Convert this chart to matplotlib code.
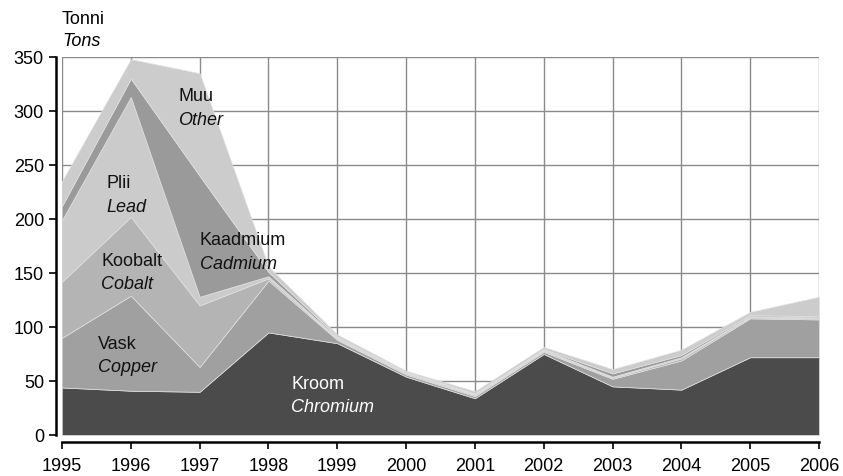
import matplotlib
matplotlib.use("Agg")
import matplotlib.pyplot as plt

plt.rcParams["font.family"] = ["Liberation Sans", "DejaVu Sans"]

# ---------------------------------------------------------------- data
years = [1995, 1996, 1997, 1998, 1999, 2000, 2001, 2002, 2003, 2004, 2005, 2006]
chromium = [44, 41, 40, 95, 85, 54, 34, 75, 45, 42, 72, 72]
copper = [46, 88, 23, 48, 3, 2, 2, 2, 7, 27, 36, 35]
cobalt = [52, 73, 57, 2, 1, 1, 1, 1, 1, 2, 1, 1]
lead = [57, 111, 8, 2, 1, 1, 1, 1, 1, 1, 1, 1]
cadmium = [13, 17, 112, 4, 1, 0.5, 0.5, 0.5, 3, 2, 1, 1]
other = [23, 18, 95, 5, 2, 1, 2, 2, 4, 5, 3, 18]

series = [chromium, copper, cobalt, lead, cadmium, other]
colors = ["#4b4b4b", "#a0a0a0", "#b4b4b4", "#cbcbcb", "#9a9a9a", "#cccccc"]

# label text (Estonian / English), anchor in data coords, text colour
labels = [
    ("Muu", "Other", 1996.69, 314, "#111111"),
    ("Plii", "Lead", 1995.64, 234, "#111111"),
    ("Koobalt", "Cobalt", 1995.57, 162, "#111111"),
    ("Kaadmium", "Cadmium", 1997.0, 181, "#111111"),
    ("Vask", "Copper", 1995.52, 85, "#111111"),
    ("Kroom", "Chromium", 1998.33, 48, "white"),
]

# ---------------------------------------------------------------- figure
fig = plt.figure(figsize=(8.43, 4.77), dpi=100)
ax = fig.add_axes([62 / 843, 41 / 477, 757 / 843, 378 / 477])

ax.stackplot(years, *series, colors=colors, edgecolor="#e0e0e0", linewidth=0.5)

ax.set_xlim(1995, 2006)
ax.set_ylim(0, 350)
ax.set_xticks(years)
ax.set_yticks(range(0, 351, 50))
ax.set_axisbelow(True)
ax.grid(True, color="#8a8a8a", linewidth=1.0)

for s in ["top", "right"]:
    ax.spines[s].set_visible(False)
ax.spines["left"].set_position(("outward", 4))
ax.spines["bottom"].set_position(("outward", 5))
for s in ["left", "bottom"]:
    ax.spines[s].set_linewidth(1.8)
ax.tick_params(direction="out", length=5, width=1.2, labelsize=13)
ax.tick_params(axis="x", pad=6)
ax.tick_params(axis="y", pad=4)

for est, eng, x, y, c in labels:
    ax.text(x, y, est, fontsize=13, color=c, va="center", ha="left")
    ax.text(x, y - 22, eng, fontsize=13, color=c, va="center", ha="left",
            style="italic")

fig.text(62 / 843, 1 - 20 / 477, "Tonni", fontsize=13, va="center", ha="left")
fig.text(62 / 843, 1 - 42 / 477, "Tons", fontsize=13, va="center", ha="left",
         style="italic")

fig.savefig("out.png", dpi=100)
